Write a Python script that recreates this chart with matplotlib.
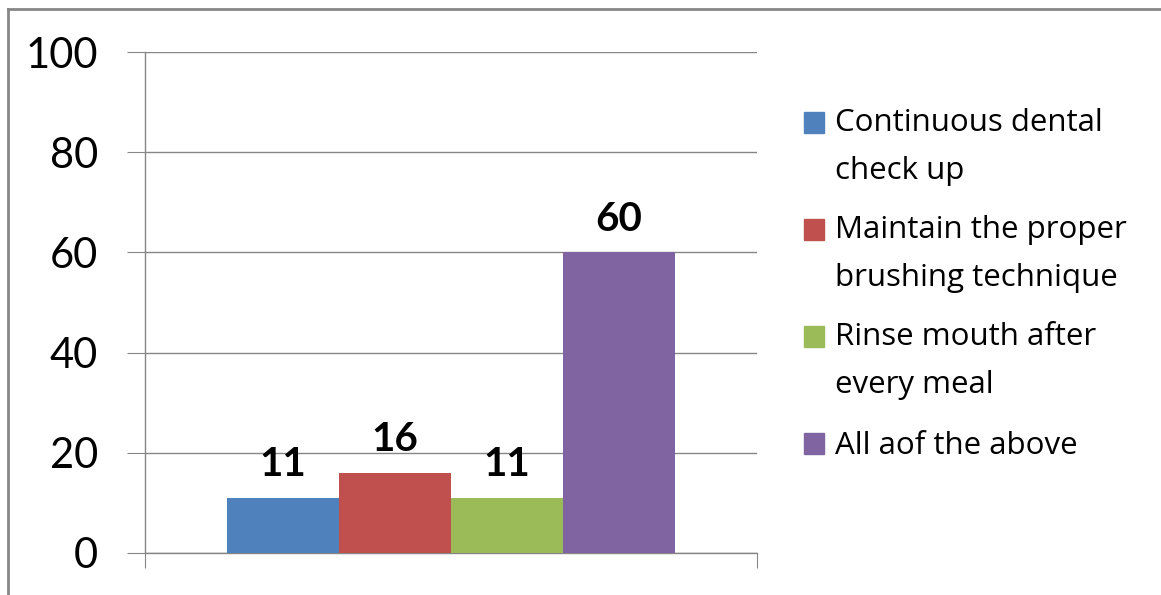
import matplotlib
matplotlib.use("Agg")
import matplotlib.pyplot as plt
from matplotlib.lines import Line2D
from matplotlib.patches import Rectangle

plt.rcParams['font.family'] = ['Lato', 'DejaVu Sans']

labels = ["Continuous dental\ncheck up",
          "Maintain the proper\nbrushing technique",
          "Rinse mouth after\nevery meal",
          "All aof the above"]
values = [11, 16, 11, 60]
colors = ["#4F81BD", "#C0504D", "#9BBB59", "#8064A2"]
yticks = [0, 20, 40, 60, 80, 100]

W, H = 1161, 595
fig = plt.figure(figsize=(W/100, H/100), dpi=100)
ax = fig.add_axes([145/W, 1-553/H, (757-145)/W, (553-52)/H])

w = 0.183
for i, (lab, v, c) in enumerate(zip(labels, values, colors)):
    x = (i - 1.5) * w
    ax.bar(x, v, width=w, color=c, label=lab, zorder=3)
    ax.annotate(str(v), (x, v), xytext=(0, 15.5), textcoords="offset points",
                ha="center", va="baseline", fontsize=29, fontweight="bold")

ax.set_xlim(-0.5, 0.5)
ax.set_ylim(0, 100)
ax.set_yticks(yticks)
ax.set_xticks([-0.5, 0.5])
ax.set_xticklabels([])
ax.grid(axis="y", color="#868686", linewidth=1, zorder=0)
for s in ["top", "right"]:
    ax.spines[s].set_visible(False)
for s in ["left", "bottom"]:
    ax.spines[s].set_color("#868686")
    ax.spines[s].set_linewidth(1)
ax.tick_params(axis="y", length=13, color="#868686", labelsize=30, pad=21)
ax.tick_params(axis="x", length=11, color="#868686")

# legend, drawn by hand so the swatch sits on the first line
line_px = 46
for i, (lab, c) in enumerate(zip(labels, colors)):
    base = 133 + i * 107
    last = base + line_px * lab.count("\n")
    fig.add_artist(Rectangle((804/W, 1-base/H), 20/W, 21/H, color=c,
                             transform=fig.transFigure))
    fig.text(835/W, 1-last/H, lab, fontsize=22.5, family=['Open Sans', 'DejaVu Sans'],
             va="baseline", ha="left", linespacing=1.8)

# outer chart border
fig.add_artist(Line2D([8/W, 8/W], [0, 1-9/H], color="#868686", linewidth=2))
fig.add_artist(Line2D([8/W, 1], [1-9/H, 1-9/H], color="#868686", linewidth=2))

fig.savefig("out.png", dpi=100)
